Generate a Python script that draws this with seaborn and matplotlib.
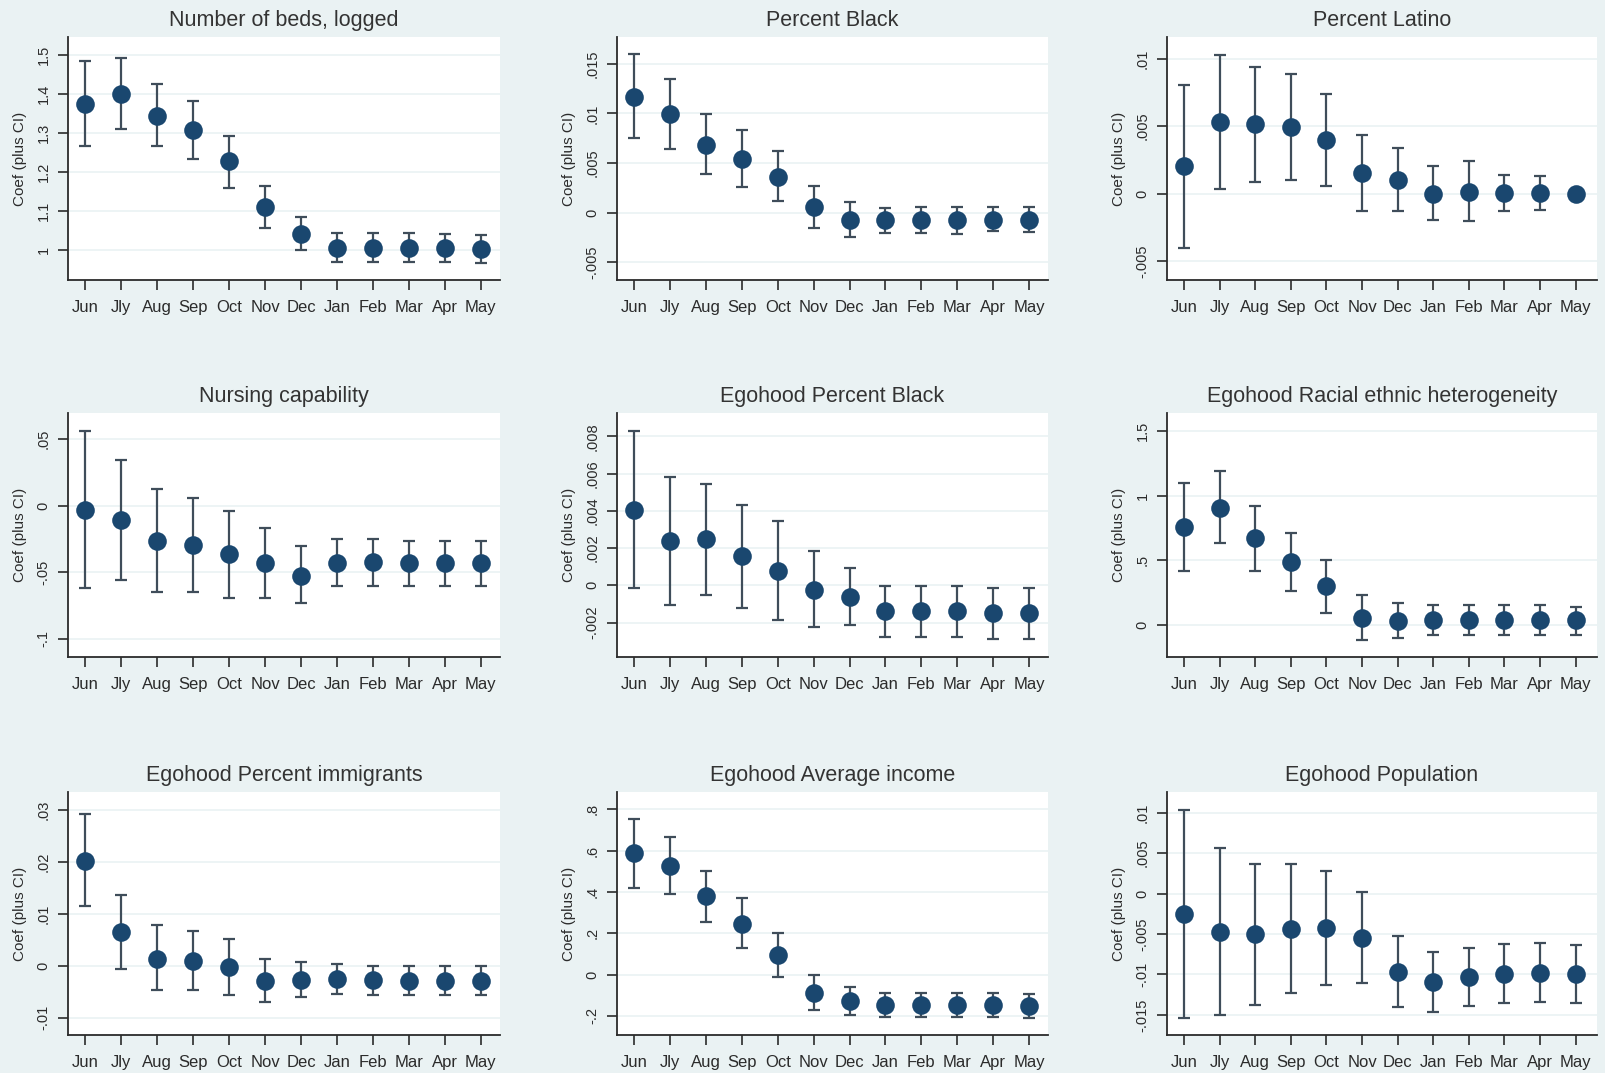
import numpy as np
import pandas as pd
import matplotlib
matplotlib.use("Agg")
import matplotlib.pyplot as plt
import seaborn as sns

# Month labels for the event-time axis
months = ["Jun", "Jly", "Aug", "Sep", "Oct", "Nov", "Dec", "Jan", "Feb", "Mar", "Apr", "May"]

# Coefficients and 95% confidence bounds by month, one set per covariate
beds_coef = [1.373, 1.400, 1.343, 1.307, 1.227, 1.109, 1.041, 1.004, 1.004, 1.004, 1.004, 1.003]
beds_lo = [1.266, 1.310, 1.266, 1.233, 1.158, 1.055, 1.000, 0.970, 0.970, 0.970, 0.970, 0.966]
beds_hi = [1.483, 1.492, 1.424, 1.382, 1.292, 1.164, 1.083, 1.043, 1.043, 1.043, 1.040, 1.038]

black_coef = [0.01168, 0.00993, 0.00681, 0.00540, 0.00362, 0.00060, -0.00074, -0.00080, -0.00080, -0.00080, -0.00074, -0.00074]
black_lo = [0.00748, 0.00641, 0.00386, 0.00262, 0.00114, -0.00158, -0.00248, -0.00208, -0.00208, -0.00215, -0.00181, -0.00201]
black_hi = [0.01597, 0.01342, 0.00993, 0.00832, 0.00624, 0.00272, 0.00111, 0.00044, 0.00060, 0.00060, 0.00060, 0.00060]

latino_coef = [0.00202, 0.00530, 0.00512, 0.00493, 0.00394, 0.00153, 0.00103, 0.00000, 0.00012, 0.00005, 0.00005, -0.00005]
latino_lo = [-0.00401, 0.00037, 0.00086, 0.00103, 0.00054, -0.00128, -0.00128, -0.00192, -0.00202, -0.00128, -0.00118, -0.00030]
latino_hi = [0.00808, 0.01030, 0.00936, 0.00887, 0.00739, 0.00431, 0.00337, 0.00204, 0.00239, 0.00135, 0.00130, 0.00020]

nursing_coef = [-0.0030, -0.0110, -0.0263, -0.0293, -0.0363, -0.0431, -0.0526, -0.0431, -0.0426, -0.0431, -0.0431, -0.0431]
nursing_lo = [-0.0619, -0.0561, -0.0652, -0.0652, -0.0694, -0.0694, -0.0732, -0.0602, -0.0602, -0.0602, -0.0602, -0.0602]
nursing_hi = [0.0559, 0.0341, 0.0128, 0.0060, -0.0043, -0.0170, -0.0306, -0.0251, -0.0251, -0.0263, -0.0263, -0.0263]

ego_black_coef = [0.00407, 0.00237, 0.00249, 0.00159, 0.00079, -0.00023, -0.00065, -0.00140, -0.00140, -0.00140, -0.00149, -0.00149]
ego_black_lo = [-0.00014, -0.00106, -0.00054, -0.00120, -0.00188, -0.00226, -0.00215, -0.00280, -0.00280, -0.00280, -0.00289, -0.00289]
ego_black_hi = [0.00828, 0.00582, 0.00547, 0.00434, 0.00348, 0.00183, 0.00091, -0.00002, -0.00002, -0.00005, -0.00014, -0.00014]

hetero_coef = [0.755, 0.905, 0.672, 0.484, 0.297, 0.052, 0.026, 0.034, 0.034, 0.034, 0.034, 0.034]
hetero_lo = [0.419, 0.634, 0.419, 0.259, 0.091, -0.116, -0.103, -0.083, -0.083, -0.083, -0.083, -0.083]
hetero_hi = [1.099, 1.195, 0.923, 0.711, 0.499, 0.228, 0.168, 0.150, 0.150, 0.150, 0.150, 0.137]

immig_coef = [0.0203, 0.00654, 0.00141, 0.00090, -0.00020, -0.00288, -0.00263, -0.00244, -0.00276, -0.00288, -0.00288, -0.00288]
immig_lo = [0.0116, -0.00050, -0.00468, -0.00468, -0.00564, -0.00692, -0.00596, -0.00532, -0.00564, -0.00564, -0.00564, -0.00564]
immig_hi = [0.0292, 0.0137, 0.00780, 0.00673, 0.00526, 0.00141, 0.00077, 0.00045, -0.00006, -0.00006, -0.00006, -0.00006]

income_coef = [0.587, 0.527, 0.378, 0.246, 0.093, -0.088, -0.129, -0.148, -0.148, -0.148, -0.148, -0.153]
income_lo = [0.418, 0.389, 0.252, 0.129, -0.011, -0.172, -0.196, -0.206, -0.206, -0.206, -0.206, -0.209]
income_hi = [0.752, 0.667, 0.502, 0.370, 0.201, -0.003, -0.061, -0.088, -0.088, -0.088, -0.088, -0.093]

pop_coef = [-0.00247, -0.00473, -0.00502, -0.00444, -0.00432, -0.00555, -0.00966, -0.01090, -0.01036, -0.00995, -0.00979, -0.00995]
pop_lo = [-0.01534, -0.01501, -0.01378, -0.01225, -0.01131, -0.01102, -0.01398, -0.01468, -0.01390, -0.01349, -0.01336, -0.01349]
pop_hi = [0.01036, 0.00563, 0.00362, 0.00362, 0.00276, 0.00021, -0.00522, -0.00720, -0.00678, -0.00629, -0.00609, -0.00637]

# Panel titles, y ticks and tick labels
titles = ["Number of beds, logged", "Percent Black", "Percent Latino",
          "Nursing capability", "Egohood Percent Black", "Egohood Racial ethnic heterogeneity",
          "Egohood Percent immigrants", "Egohood Average income", "Egohood Population"]

yticks = [
    [1.0, 1.1, 1.2, 1.3, 1.4, 1.5],
    [-0.005, 0.0, 0.005, 0.01, 0.015],
    [-0.005, 0.0, 0.005, 0.01],
    [-0.1, -0.05, 0.0, 0.05],
    [-0.002, 0.0, 0.002, 0.004, 0.006, 0.008],
    [0.0, 0.5, 1.0, 1.5],
    [-0.01, 0.0, 0.01, 0.02, 0.03],
    [-0.2, 0.0, 0.2, 0.4, 0.6, 0.8],
    [-0.015, -0.01, -0.005, 0.0, 0.005, 0.01],
]
ytick_labels = [
    ["1", "1.1", "1.2", "1.3", "1.4", "1.5"],
    ["-.005", "0", ".005", ".01", ".015"],
    ["-.005", "0", ".005", ".01"],
    ["-.1", "-.05", "0", ".05"],
    ["-.002", "0", ".002", ".004", ".006", ".008"],
    ["0", ".5", "1", "1.5"],
    ["-.01", "0", ".01", ".02", ".03"],
    ["-.2", "0", ".2", ".4", ".6", ".8"],
    ["-.015", "-.01", "-.005", "0", ".005", ".01"],
]
ylims = [
    (0.923, 1.545), (-0.0068, 0.0177), (-0.0064, 0.0116),
    (-0.1138, 0.0697), (-0.00385, 0.00926), (-0.251, 1.642),
    (-0.0133, 0.0335), (-0.293, 0.884), (-0.01748, 0.01254),
]

series = [
    (beds_coef, beds_lo, beds_hi),
    (black_coef, black_lo, black_hi),
    (latino_coef, latino_lo, latino_hi),
    (nursing_coef, nursing_lo, nursing_hi),
    (ego_black_coef, ego_black_lo, ego_black_hi),
    (hetero_coef, hetero_lo, hetero_hi),
    (immig_coef, immig_lo, immig_hi),
    (income_coef, income_lo, income_hi),
    (pop_coef, pop_lo, pop_hi),
]

sns.set_theme(style="white")
plt.rcParams["font.family"] = ["Liberation Sans", "DejaVu Sans"]

BG = "#eaf2f3"
NAVY = "#1a476f"
BAR = "#3f4d5a"
INK = "#2b2b2b"

W, H = 1606, 1073
fig = plt.figure(figsize=(W / 100, H / 100), dpi=100, facecolor=BG)

col_left = [68, 617, 1167]
col_right = [500, 1048, 1597]
row_top = [37, 413, 792]
row_bottom = [280, 657, 1035]

for i, (title, (coef, lo, hi)) in enumerate(zip(titles, series)):
    r, c = divmod(i, 3)
    l, rt = col_left[c], col_right[c]
    t, b = row_top[r], row_bottom[r]
    ax = fig.add_axes([l / W, 1 - b / H, (rt - l) / W, (b - t) / H])
    ax.set_facecolor("white")

    df = pd.DataFrame({"month": months, "x": np.arange(len(months)),
                       "coef": coef, "lo": lo, "hi": hi})

    for y in yticks[i]:
        ax.axhline(y, color=BG, lw=1.2, zorder=0)

    ax.errorbar(df["x"], df["coef"],
                yerr=[df["coef"] - df["lo"], df["hi"] - df["coef"]],
                fmt="none", ecolor=BAR, elinewidth=1.6, capsize=4.2,
                capthick=1.6, zorder=2)
    sns.scatterplot(data=df, x="x", y="coef", ax=ax, s=180, color=NAVY,
                    edgecolor=NAVY, linewidth=0, zorder=3, legend=False)

    ax.set_xlim(-0.48, 11.53 if c < 2 else 11.6)
    ax.set_ylim(*ylims[i])
    ax.set_xticks(df["x"])
    ax.set_xticklabels(months)
    ax.set_yticks(yticks[i])
    ax.set_yticklabels(ytick_labels[i], rotation=90, va="center")

    ax.tick_params(axis="both", which="major", direction="out", length=7.5,
                   width=1.2, color=INK, labelcolor=INK, bottom=True, left=True)
    ax.tick_params(axis="x", labelsize=12, pad=7)
    ax.tick_params(axis="y", labelsize=10.5, pad=5)

    for side in ["top", "right"]:
        ax.spines[side].set_visible(False)
    for side in ["left", "bottom"]:
        ax.spines[side].set_visible(True)
        ax.spines[side].set_color(INK)
        ax.spines[side].set_linewidth(1.3)

    ax.set_xlabel("")
    ax.set_ylabel("Coef (plus CI)", fontsize=11, color=INK, labelpad=7)
    ax.set_title(title, fontsize=15.5, color="#333333", pad=8)

fig.savefig("out.png", dpi=100, facecolor=BG)
